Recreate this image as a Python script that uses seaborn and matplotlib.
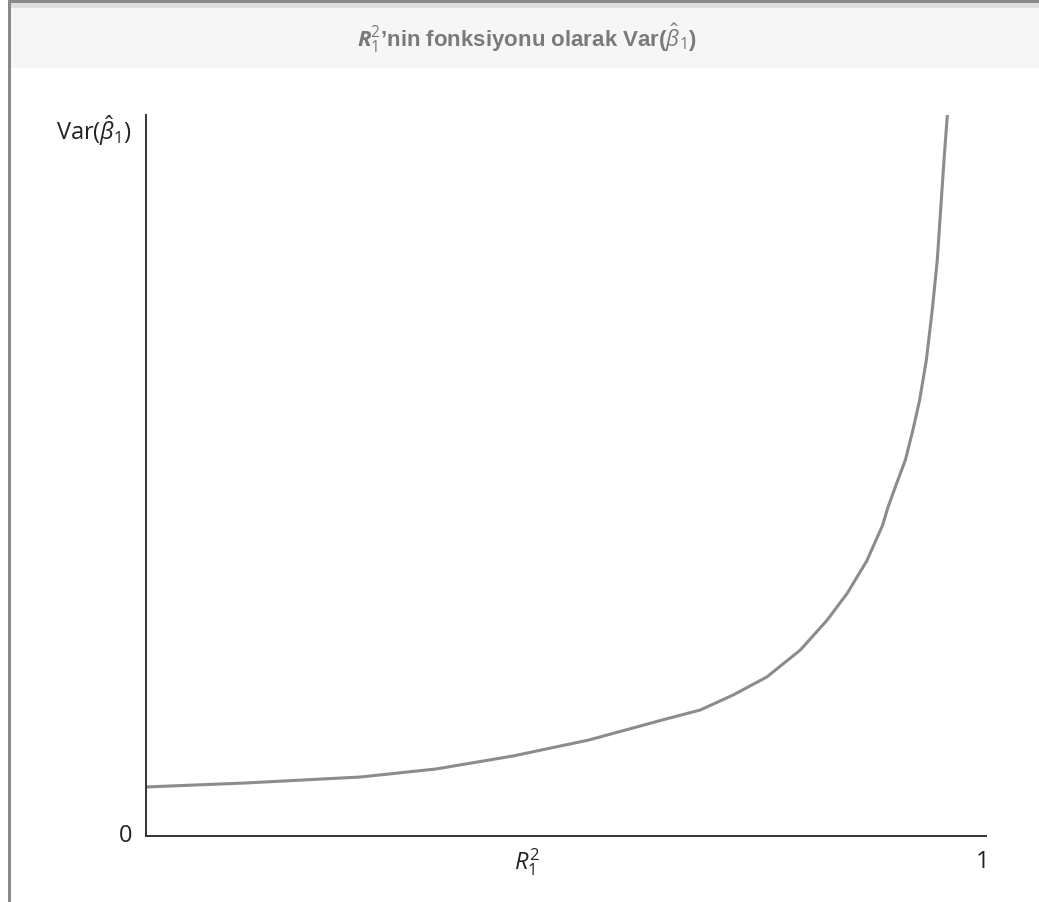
import matplotlib
matplotlib.use("Agg")
import matplotlib.pyplot as plt
from matplotlib.patches import Rectangle
import seaborn as sns
import pandas as pd

# Curve: R1^2 (0..1) vs Var(beta1_hat) (arbitrary units, axis top = 10)
r2_values = [0.0, 0.118, 0.255, 0.345, 0.437, 0.527, 0.619, 0.660, 0.699, 0.739,
             0.779, 0.811, 0.835, 0.858, 0.877, 0.883, 0.892, 0.904, 0.913, 0.921,
             0.929, 0.936, 0.942, 0.946, 0.950, 0.954]
var_values = [0.680, 0.735, 0.818, 0.929, 1.110, 1.331, 1.623, 1.748, 1.956, 2.205,
              2.580, 2.996, 3.370, 3.814, 4.313, 4.549, 4.840, 5.215, 5.631, 6.047,
              6.602, 7.295, 7.989, 8.682, 9.376, 10.0]

title_text = r"$\mathbf{R}_1^2$’nin fonksiyonu olarak Var($\hat{\beta}_1$)"
y_label = r"Var($\hat{\beta}_1$)"
x_label = r"$R_1^2$"
x_end_label = "1"
origin_label = "0"

sns.set_theme(style="white")
plt.rcParams['font.family'] = ['Open Sans', 'DejaVu Sans']
plt.rcParams['mathtext.fontset'] = 'custom'
plt.rcParams['mathtext.rm'] = 'Open Sans'
plt.rcParams['mathtext.it'] = 'Open Sans:italic'
plt.rcParams['mathtext.bf'] = 'Open Sans:bold:italic'

df = pd.DataFrame({"r2": r2_values, "var": var_values})

W, H = 1039, 902
fig = plt.figure(figsize=(W / 100, H / 100), dpi=100)
fig.patch.set_facecolor("white")

# Title band and frame decorations
fig.patches.append(Rectangle((11 / W, 1 - 68 / H), 1 - 11 / W, 60 / H,
                             transform=fig.transFigure, facecolor="#f6f6f6",
                             edgecolor="none", zorder=0))
fig.patches.append(Rectangle((11 / W, 1 - 8 / H), 1 - 11 / W, 5 / H,
                             transform=fig.transFigure, facecolor="#dedede",
                             edgecolor="none", zorder=0))
fig.patches.append(Rectangle((8 / W, 1 - 3 / H), 1 - 8 / W, 3 / H,
                             transform=fig.transFigure, facecolor="#8a8a8a",
                             edgecolor="none", zorder=0))
fig.patches.append(Rectangle((8 / W, 0), 3 / W, 1,
                             transform=fig.transFigure, facecolor="#8a8a8a",
                             edgecolor="none", zorder=0))

fig.text(527 / W, 1 - 38 / H, title_text, ha="center", va="center",
         fontsize=16, fontweight="bold", color="#7a7a7a",
         family=["Liberation Sans Narrow", "Liberation Sans", "DejaVu Sans"])

ax = fig.add_axes([146 / W, 1 - 836 / H, (986 - 146) / W, (836 - 115) / H])
ax.set_facecolor("white")
sns.lineplot(data=df, x="r2", y="var", ax=ax, color="#8c8c8c", linewidth=2.2)

ax.set_xlim(0, 1)
ax.set_ylim(0, 10)
ax.set_xticks([])
ax.set_yticks([])
ax.set_xlabel("")
ax.set_ylabel("")
for s in ["top", "right"]:
    ax.spines[s].set_visible(False)
for s in ["left", "bottom"]:
    ax.spines[s].set_color("#333333")
    ax.spines[s].set_linewidth(1.4)

ax.text(-0.016, 0, origin_label, ha="right", va="center", fontsize=17, color="#222222")
ax.text(0.996, -0.36, x_end_label, ha="center", va="center", fontsize=17, color="#222222")
ax.text((527 - 146) / 840, -0.36, x_label, ha="center", va="center", fontsize=17, color="#222222")
ax.text(-0.017, 9.79, y_label, ha="right", va="center", fontsize=17, color="#222222")

fig.savefig("out.png", dpi=100, facecolor="white")
